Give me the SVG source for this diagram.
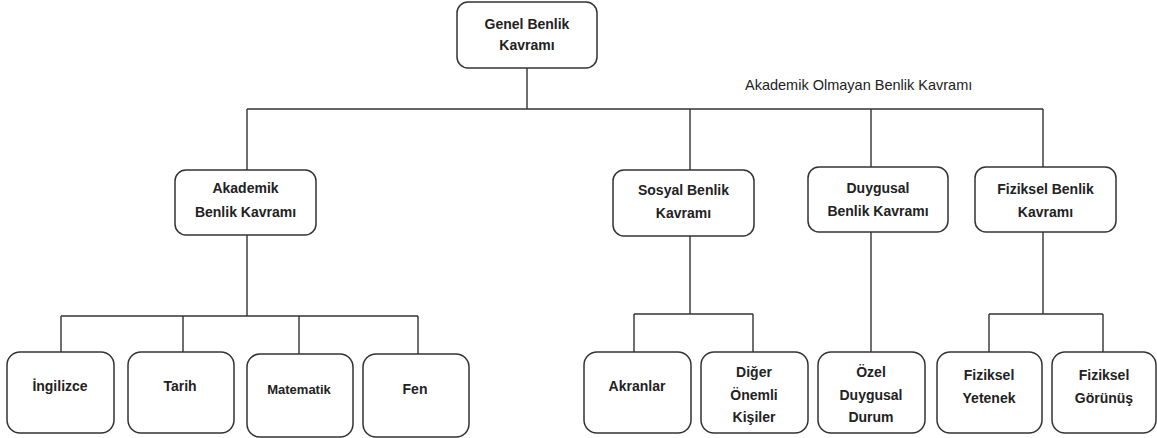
<svg xmlns="http://www.w3.org/2000/svg" width="1157" height="438" viewBox="0 0 1157 438">
<style>
.box{fill:#fff;stroke:#333;stroke-width:1.5}
.t{font-family:"Liberation Sans",Arial,sans-serif;font-weight:bold;font-size:14px;fill:#222;text-anchor:middle}
.lab{font-family:"Liberation Sans",Arial,sans-serif;font-size:14.5px;fill:#222}
.c{fill:none;stroke:#333;stroke-width:1.4}
</style>
<rect width="1157" height="438" fill="#fff"/>
<g id="connectors" class="c">
<path d="M527 68V109M247 109H1043M247 109V170M690 109V170M871 109V167M1043 109V167"/>
<path d="M247 235V316M61 316H418M61 316V352M183 316V352M299 316V354M418 316V354"/>
<path d="M690 236V314M634 314H753M634 314V352M753 314V352"/>
<path d="M871 232V352"/>
<path d="M1043 232V314M989 314H1103M989 314V352M1103 314V352"/>
</g>
<text class="lab" x="745" y="90">Akademik Olmayan Benlik Kavramı</text>
<g id="genel"><rect class="box" x="457" y="2" width="140" height="66" rx="11"/><text class="t" x="527" y="29">Genel Benlik</text><text class="t" x="527" y="50">Kavramı</text></g>
<g id="akademik"><rect class="box" x="175" y="170" width="141" height="65" rx="11"/><text class="t" x="245.5" y="193">Akademik</text><text class="t" x="245.5" y="217">Benlik Kavramı</text></g>
<g id="sosyal"><rect class="box" x="613" y="170" width="141" height="66" rx="11"/><text class="t" x="683.5" y="195">Sosyal Benlik</text><text class="t" x="683.5" y="218">Kavramı</text></g>
<g id="duygusal"><rect class="box" x="808" y="167" width="140" height="65" rx="11"/><text class="t" x="878" y="193">Duygusal</text><text class="t" x="878" y="216">Benlik Kavramı</text></g>
<g id="fiziksel"><rect class="box" x="975" y="167" width="141" height="65" rx="11"/><text class="t" x="1045.5" y="194">Fiziksel Benlik</text><text class="t" x="1045.5" y="217">Kavramı</text></g>
<g id="ingilizce"><rect class="box" x="7" y="352" width="107" height="81" rx="13"/><text class="t" x="60" y="391">İngilizce</text></g>
<g id="tarih"><rect class="box" x="128" y="352" width="106" height="81" rx="13"/><text class="t" x="180" y="391">Tarih</text></g>
<g id="matematik"><rect class="box" x="247" y="354" width="106" height="83" rx="13"/><text class="t" x="299" y="394" style="font-size:13px">Matematik</text></g>
<g id="fen"><rect class="box" x="363" y="354" width="106" height="83" rx="13"/><text class="t" x="415" y="394">Fen</text></g>
<g id="akranlar"><rect class="box" x="584" y="352" width="107" height="81" rx="13"/><text class="t" x="637" y="391">Akranlar</text></g>
<g id="diger"><rect class="box" x="701" y="352" width="107" height="81" rx="13"/><text class="t" x="754" y="377">Diğer</text><text class="t" x="754" y="400">Önemli</text><text class="t" x="754" y="422">Kişiler</text></g>
<g id="ozel"><rect class="box" x="818" y="352" width="107" height="81" rx="13"/><text class="t" x="871" y="377">Özel</text><text class="t" x="871" y="400">Duygusal</text><text class="t" x="871" y="422">Durum</text></g>
<g id="yetenek"><rect class="box" x="937" y="352" width="105" height="81" rx="13"/><text class="t" x="989" y="380">Fiziksel</text><text class="t" x="989" y="403">Yetenek</text></g>
<g id="gorunus"><rect class="box" x="1052" y="352" width="104" height="81" rx="13"/><text class="t" x="1104" y="380">Fiziksel</text><text class="t" x="1104" y="403">Görünüş</text></g>
</svg>
